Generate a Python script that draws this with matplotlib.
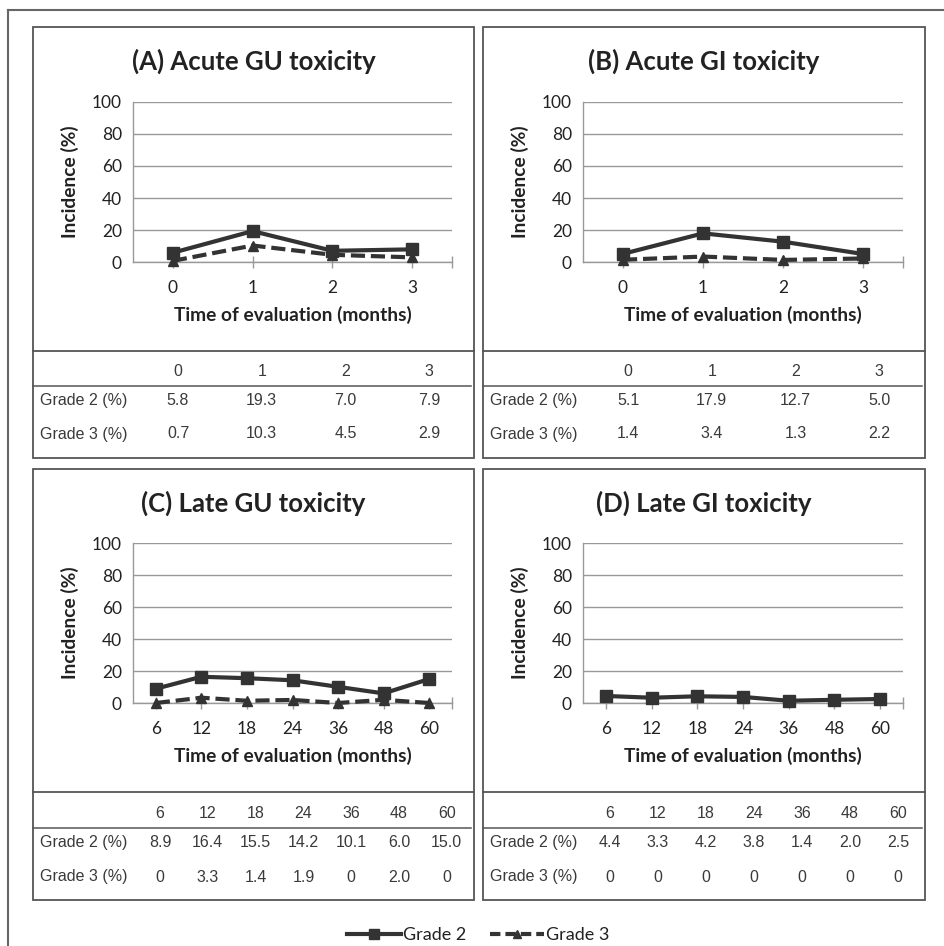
import matplotlib
matplotlib.use("Agg")
import matplotlib.pyplot as plt
from matplotlib.lines import Line2D
from matplotlib.patches import Rectangle

W, H = 944, 946

# ---------------- data ----------------
titles = ["(A) Acute GU toxicity", "(B) Acute GI toxicity",
          "(C) Late GU toxicity", "(D) Late GI toxicity"]
acute_times = ["0", "1", "2", "3"]
late_times = ["6", "12", "18", "24", "36", "48", "60"]

gu_acute_g2 = [5.8, 19.3, 7.0, 7.9]
gu_acute_g3 = [0.7, 10.3, 4.5, 2.9]
gi_acute_g2 = [5.1, 17.9, 12.7, 5.0]
gi_acute_g3 = [1.4, 3.4, 1.3, 2.2]
gu_late_g2 = [8.9, 16.4, 15.5, 14.2, 10.1, 6.0, 15.0]
gu_late_g3 = [0, 3.3, 1.4, 1.9, 0, 2.0, 0]
gi_late_g2 = [4.4, 3.3, 4.2, 3.8, 1.4, 2.0, 2.5]
gi_late_g3 = [0, 0, 0, 0, 0, 0, 0]

gu_late_g3_txt = ["0", "3.3", "1.4", "1.9", "0", "2.0", "0"]
gi_late_g3_txt = ["0", "0", "0", "0", "0", "0", "0"]

row_labels = ["Grade 2 (%)", "Grade 3 (%)"]
series_names = ["Grade 2", "Grade 3"]
yticks = [0, 20, 40, 60, 80, 100]

# --------------- styling --------------
LINE = "#333333"
BOX = "#555555"
GRID = "#999999"
TXT = "#222222"
TTXT = "#3a3a3a"
SANS = ["Lato", "DejaVu Sans"]
TAB = ["Liberation Sans", "DejaVu Sans"]
DASH = (0, (3.4, 1.4))

fig = plt.figure(figsize=(W / 100, H / 100), dpi=100)


def fx(x):
    return x / W


def fy(y):
    return 1 - y / H


def hline(x0, x1, y, color=BOX, lw=1.3):
    fig.add_artist(Line2D([fx(x0), fx(x1)], [fy(y), fy(y)], color=color, lw=lw,
                          transform=fig.transFigure))


def vline(x, y0, y1, color=BOX, lw=1.3):
    fig.add_artist(Line2D([fx(x), fx(x)], [fy(y0), fy(y1)], color=color, lw=lw,
                          transform=fig.transFigure))


# outer frame (top and left)
hline(8, 944, 10, color="#666666", lw=1.5)
vline(8, 10, 946, color="#666666", lw=1.5)

panels = [
    dict(title=titles[0], times=acute_times, g2=gu_acute_g2, g3=gu_acute_g3, show_g3=True,
         g2t=[f"{v:.1f}" for v in gu_acute_g2], g3t=[f"{v:.1f}" for v in gu_acute_g3],
         box=(33, 27, 474, 458), ax=(133, 102, 452, 262), sep=351, hdr=386,
         col0=178, colstep=83.7, rows=(372, 400, 434), label_x=40, hdr_end=471),
    dict(title=titles[1], times=acute_times, g2=gi_acute_g2, g3=gi_acute_g3, show_g3=True,
         g2t=[f"{v:.1f}" for v in gi_acute_g2], g3t=[f"{v:.1f}" for v in gi_acute_g3],
         box=(483, 27, 925, 458), ax=(583, 102, 903, 262), sep=351, hdr=386,
         col0=628, colstep=83.7, rows=(372, 400, 434), label_x=490, hdr_end=922),
    dict(title=titles[2], times=late_times, g2=gu_late_g2, g3=gu_late_g3, show_g3=True,
         g2t=[f"{v:.1f}" for v in gu_late_g2], g3t=gu_late_g3_txt,
         box=(33, 469, 474, 900), ax=(133, 543, 452, 703), sep=792, hdr=828,
         col0=160, colstep=47.8, rows=(813, 842, 877), label_x=40, hdr_end=471),
    dict(title=titles[3], times=late_times, g2=gi_late_g2, g3=gi_late_g3, show_g3=False,
         g2t=[f"{v:.1f}" for v in gi_late_g2], g3t=gi_late_g3_txt,
         box=(483, 469, 925, 900), ax=(583, 543, 903, 703), sep=792, hdr=828,
         col0=610, colstep=48.0, rows=(813, 842, 877), label_x=490, hdr_end=922),
]

for p in panels:
    x0, y0, x1, y1 = p["box"]
    fig.add_artist(Rectangle((fx(x0), fy(y1)), fx(x1) - fx(x0), fy(y0) - fy(y1),
                             fill=False, edgecolor=BOX, lw=1.3, transform=fig.transFigure))
    # title
    fig.text(fx((x0 + x1) / 2), fy(y0 + 34), p["title"], ha="center", va="center",
             fontsize=18.5, fontweight="bold", family=SANS, color=TXT)

    al, at, ar, ab = p["ax"]
    ax = fig.add_axes([fx(al), fy(ab), fx(ar) - fx(al), fy(at) - fy(ab)])
    n = len(p["times"])
    xs = list(range(n))
    ax.set_xlim(-0.5, n - 0.5)
    ax.set_ylim(0, 100)
    ax.set_yticks(yticks)
    ax.set_yticklabels([str(v) for v in yticks], family=SANS, fontsize=12.5, color=TXT)
    ax.set_xticks(xs)
    ax.set_xticklabels(p["times"], family=SANS, fontsize=12.5, color=TXT)
    ax.set_xticks([n - 0.5], minor=True)
    ax.tick_params(axis="y", length=0, pad=8)
    ax.tick_params(axis="x", which="both", direction="inout", length=8,
                   color=GRID, width=1, pad=9)
    ax.grid(axis="y", color=GRID, lw=1)
    ax.set_axisbelow(True)
    for s in ["top", "right"]:
        ax.spines[s].set_visible(False)
    for s in ["left", "bottom"]:
        ax.spines[s].set_color(GRID)
        ax.spines[s].set_linewidth(1)
    ax.set_facecolor("none")
    ax.plot(xs, p["g2"], color=LINE, lw=3, marker="s", ms=8, clip_on=False, zorder=4)
    if p["show_g3"]:
        ax.plot(xs, p["g3"], color=LINE, lw=3, ls=DASH, marker="^", ms=7,
                clip_on=False, zorder=3)
    ax.set_xlabel("Time of evaluation (months)", family=SANS, fontsize=13.8,
                  fontweight="bold", color=TXT, labelpad=7)
    ax.set_ylabel("Incidence (%)", family=SANS, fontsize=13.8, fontweight="bold",
                  color=TXT, labelpad=9)

    # table
    hline(x0, x1, p["sep"])
    hline(x0, p["hdr_end"], p["hdr"], lw=1.1)
    hy, r1, r2 = p["rows"]
    for i in range(n):
        cx = p["col0"] + i * p["colstep"]
        fig.text(fx(cx), fy(hy), p["times"][i], ha="center", va="center",
                 fontsize=11.5, family=TAB, color=TTXT)
        fig.text(fx(cx), fy(r1), p["g2t"][i], ha="center", va="center",
                 fontsize=11.5, family=TAB, color=TTXT)
        fig.text(fx(cx), fy(r2), p["g3t"][i], ha="center", va="center",
                 fontsize=11.5, family=TAB, color=TTXT)
    fig.text(fx(p["label_x"]), fy(r1), row_labels[0], ha="left", va="center",
             fontsize=11.5, family=TAB, color=TTXT)
    fig.text(fx(p["label_x"]), fy(r2), row_labels[1], ha="left", va="center",
             fontsize=11.5, family=TAB, color=TTXT)

# legend
h2 = Line2D([], [], color=LINE, lw=3, marker="s", ms=7)
h3 = Line2D([], [], color=LINE, lw=3, ls=(0, (2.5, 1.2)), marker="^", ms=6)
leg = fig.legend([h2, h3], series_names, loc="center", bbox_to_anchor=(fx(478), fy(935)),
                 ncol=2, frameon=False, handlelength=3.0, columnspacing=1.3,
                 handletextpad=0.1, prop={"family": SANS, "size": 13})
for t in leg.get_texts():
    t.set_color(TXT)

fig.savefig("out.png", dpi=100, facecolor="white")
